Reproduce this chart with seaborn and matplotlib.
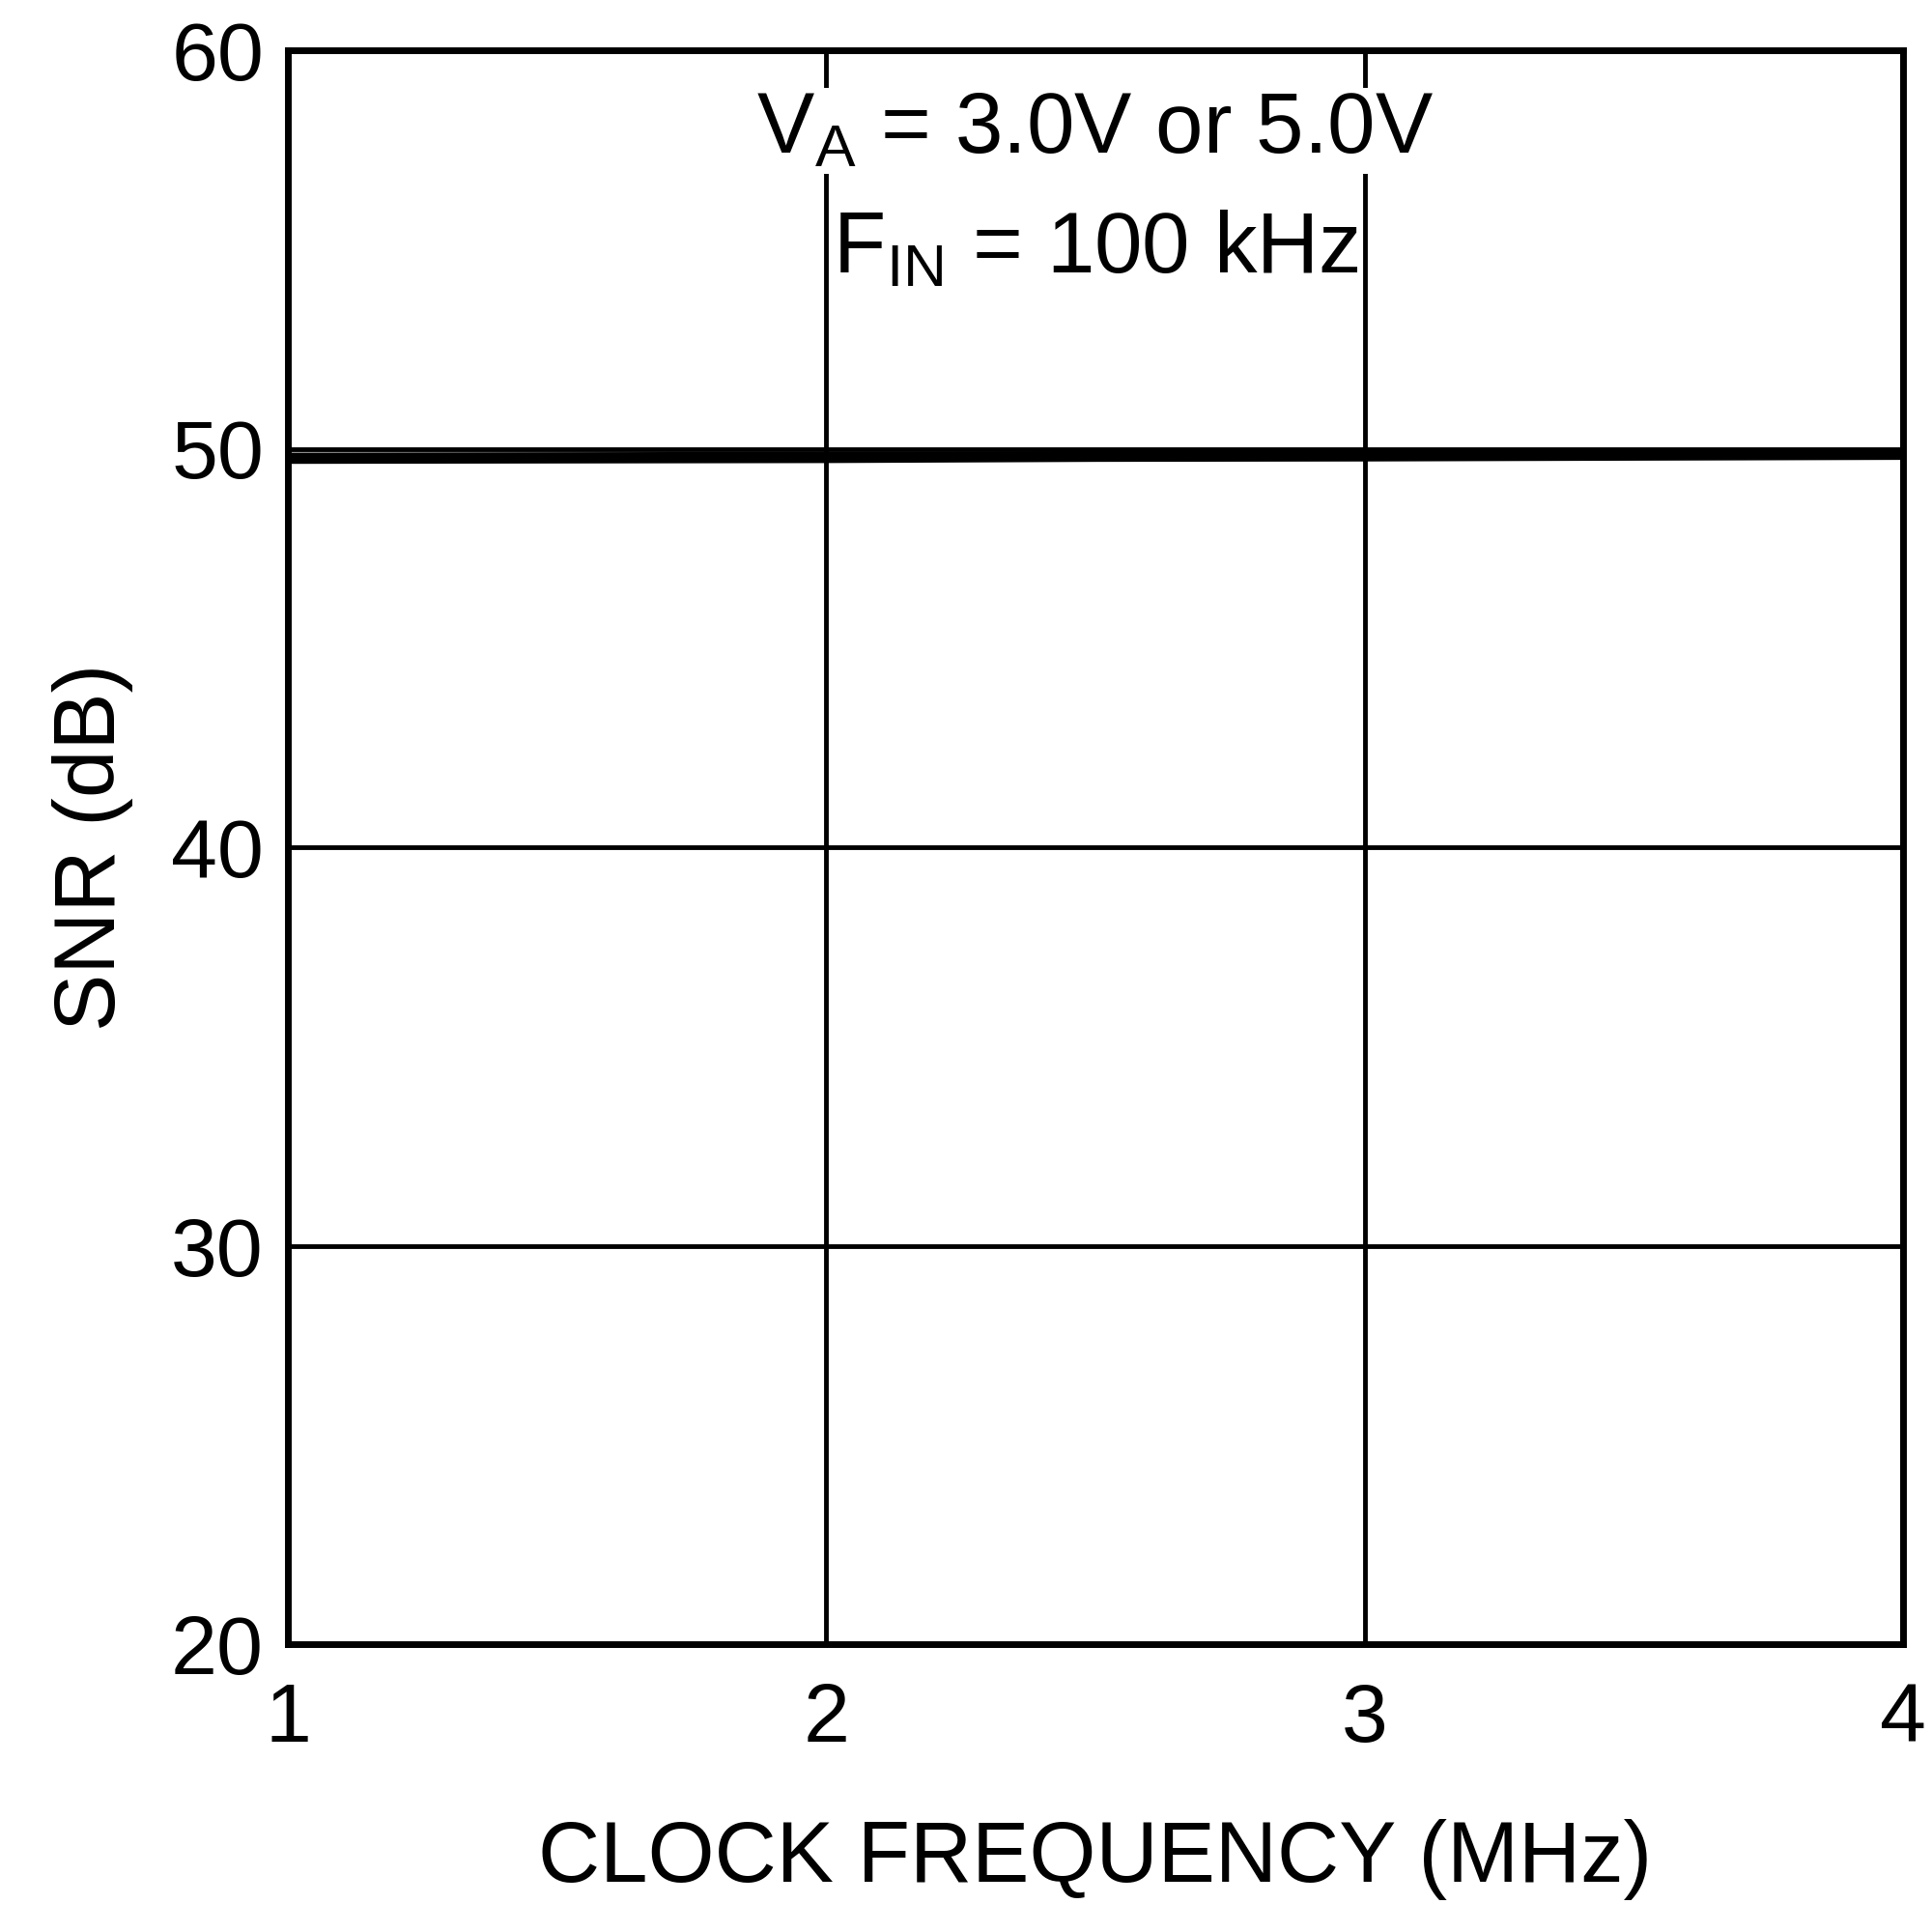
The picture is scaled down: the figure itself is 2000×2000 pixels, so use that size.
import numpy as np
import pandas as pd
import matplotlib
matplotlib.use("Agg")
import matplotlib.pyplot as plt
import seaborn as sns

sns.set_style("white")
plt.rcParams['font.family'] = ['Liberation Sans', 'DejaVu Sans']
plt.rcParams['text.color'] = 'black'
plt.rcParams['axes.labelcolor'] = 'black'

# clock frequency (MHz) and SNR (dB) for the two supply voltages
clock_mhz = [1.0, 1.5, 2.0, 2.5, 3.0, 3.5, 4.0]
snr_3v = [49.72, 49.73, 49.74, 49.77, 49.78, 49.80, 49.82]
snr_5v = [49.80, 49.81, 49.82, 49.84, 49.85, 49.86, 49.87]

df = pd.DataFrame({
    'clock': clock_mhz * 2,
    'snr': snr_3v + snr_5v,
    'supply': ['3.0V'] * len(clock_mhz) + ['5.0V'] * len(clock_mhz),
})

fig = plt.figure(figsize=(20, 20), dpi=100)
ax = fig.add_axes([0.149, 0.149, 0.836, 0.825])

sns.lineplot(data=df, x='clock', y='snr', hue='supply', palette=['black', 'black'],
             linewidth=6, legend=False, ax=ax)

ax.set_xlim(1, 4)
ax.set_ylim(20, 60)
ax.set_xticks([1, 2, 3, 4])
ax.set_yticks([20, 30, 40, 50, 60])
ax.grid(True, color='black', linewidth=3.5)
for s in ax.spines.values():
    s.set_linewidth(5)
    s.set_color('black')
ax.tick_params(axis='both', labelsize=62, length=0, colors='black')
ax.tick_params(axis='x', pad=28)
ax.tick_params(axis='y', pad=18)
ax.set_xlabel('CLOCK FREQUENCY (MHz)', fontsize=64, labelpad=45)
ax.set_ylabel('SNR (dB)', fontsize=64, labelpad=28)

ax.text(0.5, 0.975, r'V$_\mathregular{A}$ = 3.0V or 5.0V', transform=ax.transAxes,
        ha='center', va='top', fontsize=64,
        bbox=dict(facecolor='white', edgecolor='none', pad=2))
ax.text(0.5, 0.9, r'F$_\mathregular{IN}$ = 100 kHz', transform=ax.transAxes,
        ha='center', va='top', fontsize=64,
        bbox=dict(facecolor='white', edgecolor='none', pad=2))

fig.savefig('out.png', dpi=100)
